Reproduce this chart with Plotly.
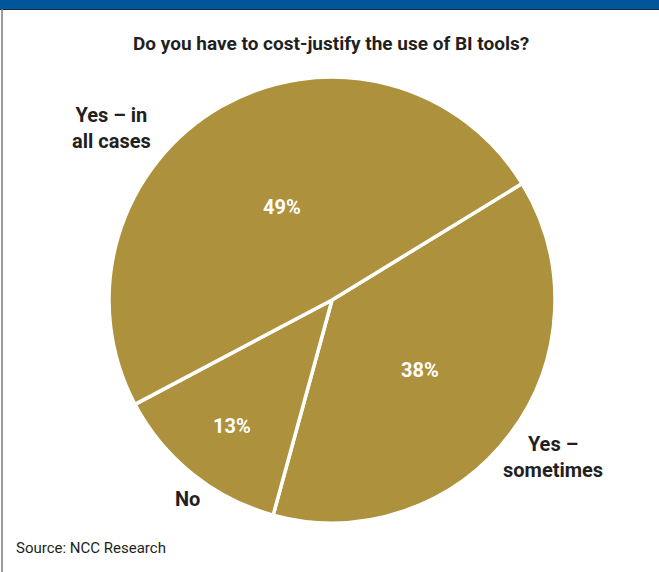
import plotly.graph_objects as go

categories = ["Yes – sometimes", "No", "Yes – in all cases"]
label_text = ["Yes –<br>sometimes", "No", "Yes – in<br>all cases"]
values = [38, 13, 49]

W, H = 659, 572
GOLD = "#AD913D"
FONT = "Roboto, Liberation Sans, sans-serif"

fig = go.Figure(go.Pie(
    labels=categories, values=values, sort=False,
    direction="clockwise", rotation=58.5,
    marker=dict(colors=[GOLD] * 3, line=dict(color="white", width=3.5)),
    textinfo="none", hoverinfo="label+percent",
    domain=dict(x=[0.1654, 0.8422], y=[0.0856, 0.8654]),
    showlegend=False,
))

# pixel positions of text (x from left, y from top)
pct_pos = [(420, 370), (232, 426), (282, 207)]
lab_pos = [(553, 457), (187, 499), (111, 128)]

def px(x, y):
    return x / W, 1 - y / H

ann = []
for v, (x, y) in zip(values, pct_pos):
    ax, ay = px(x, y)
    ann.append(dict(x=ax, y=ay, xref="paper", yref="paper", xanchor="center", yanchor="middle",
                    text=f"<b>{v}%</b>", showarrow=False,
                    font=dict(family=FONT, size=20, color="white")))
for t, (x, y) in zip(label_text, lab_pos):
    ax, ay = px(x, y)
    ann.append(dict(x=ax, y=ay, xref="paper", yref="paper", xanchor="center", yanchor="middle",
                    text=f"<b>{t}</b>", showarrow=False, align="center",
                    font=dict(family=FONT, size=20, color="#231F20")))
ann.append(dict(x=331 / W, y=1 - 44 / H, xref="paper", yref="paper", xanchor="center", yanchor="middle",
                text="<b>Do you have to cost-justify the use of BI tools?</b>",
                showarrow=False, font=dict(family=FONT, size=19, color="#231F20")))
ann.append(dict(x=14 / W, y=1 - 548 / H, xref="paper", yref="paper", xanchor="left", yanchor="middle",
                text="Source: NCC Research", showarrow=False,
                font=dict(family=FONT, size=15, color="#231F20")))

shapes = [
    dict(type="rect", xref="paper", yref="paper", x0=0, x1=1, y0=1 - 9 / H, y1=1,
         fillcolor="#00559B", line=dict(width=0), layer="above"),
    dict(type="line", xref="paper", yref="paper", x0=0, x1=1, y0=1 - 9.5 / H, y1=1 - 9.5 / H,
         line=dict(color="#1A2A44", width=1.2)),
    dict(type="line", xref="paper", yref="paper", x0=2 / W, x1=2 / W, y0=0, y1=1 - 9 / H,
         line=dict(color="#7A7A7A", width=1.5)),
]

fig.update_layout(
    width=W, height=H, margin=dict(l=0, r=0, t=0, b=0),
    paper_bgcolor="white", plot_bgcolor="white",
    annotations=ann, shapes=shapes,
)
fig.write_html("out.html")
